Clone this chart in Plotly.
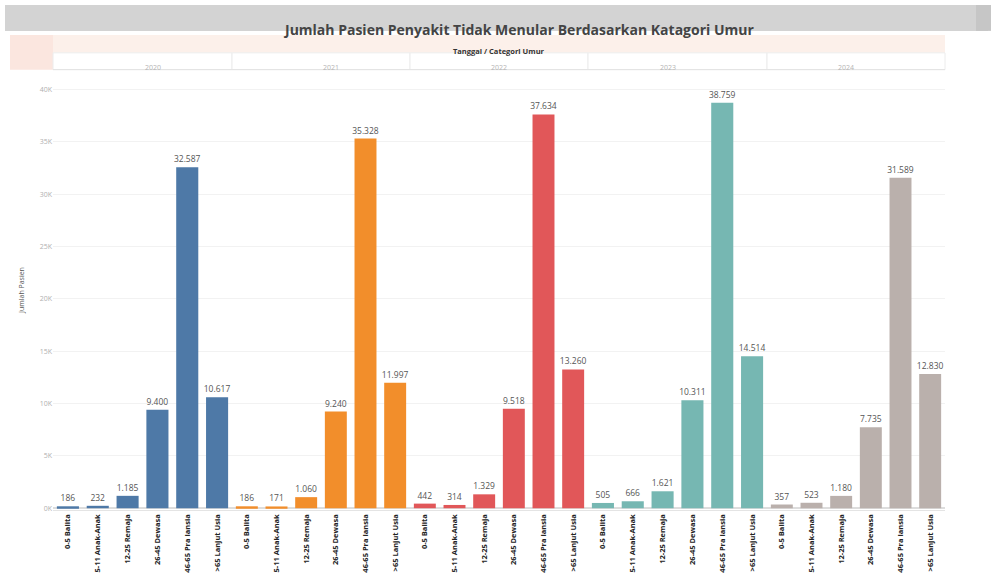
import plotly.graph_objects as go
from plotly.subplots import make_subplots

# Data: patients with non-communicable diseases per age category and year
years = ["2020", "2021", "2022", "2023", "2024"]
categories = ["0-5 Balita", "5-11 Anak-Anak", "12-25 Remaja", "26-45 Dewasa",
              "46-65 Pra lansia", ">65 Lanjut Usia"]
v2020 = [186, 232, 1185, 9400, 32587, 10617]
v2021 = [186, 171, 1060, 9240, 35328, 11997]
v2022 = [442, 314, 1329, 9518, 37634, 13260]
v2023 = [505, 666, 1621, 10311, 38759, 14514]
v2024 = [357, 523, 1180, 7735, 31589, 12830]
series = [v2020, v2021, v2022, v2023, v2024]
colors = ["#4e79a7", "#f28e2b", "#e15759", "#76b7b2", "#bab0ac"]
tick_vals = [0, 5000, 10000, 15000, 20000, 25000, 30000, 35000, 40000]
tick_text = ["0K", "5K", "10K", "15K", "20K", "25K", "30K", "35K", "40K"]

W, H = 991, 578
def px(x):
    return x / W
def py(y):
    return 1 - y / H

edges = [53, 232, 410, 588, 767, 945]
plot_top, plot_bot = 70, 512

fig = make_subplots(rows=1, cols=5, shared_yaxes=True, horizontal_spacing=0)
for i, (vals, col) in enumerate(zip(series, colors)):
    fig.add_trace(go.Bar(
        x=categories, y=vals, marker_color=col, marker_line_width=0,
        text=vals, texttemplate="%{y:,}", textposition="outside",
        constraintext="none",
        textfont=dict(size=8.5, color="#555555"), cliponaxis=False,
        showlegend=False), row=1, col=i + 1)
    xa = "xaxis" if i == 0 else f"xaxis{i + 1}"
    fig.layout[xa].update(
        domain=[px(edges[i]), px(edges[i + 1])],
        tickangle=-90,
        tickfont=dict(size=7.5, color="#222222", family="Open Sans", weight="bold"),
        showline=True, mirror=True, linecolor="#e4e4e4", linewidth=1,
        showgrid=False, ticks="")

fig.update_yaxes(range=[-190, 41900], tickvals=tick_vals, ticktext=tick_text,
                 tickfont=dict(size=7, color="#b0b0b0"), showgrid=True,
                 gridcolor="#f2f2f2", zeroline=True, zerolinecolor="#dddddd",
                 domain=[py(plot_bot), py(plot_top)], showline=False)
fig.update_yaxes(title=dict(text="Jumlah Pasien", font=dict(size=7, color="#555555"),
                            standoff=14), row=1, col=1)

shapes = []
# title bar
shapes.append(dict(type="rect", xref="paper", yref="paper", x0=px(5), x1=px(988),
                   y0=py(31), y1=py(5), fillcolor="#d3d3d3", line_width=0, layer="below"))
shapes.append(dict(type="rect", xref="paper", yref="paper", x0=px(976), x1=px(991),
                   y0=py(31), y1=py(5), fillcolor="#c6c6c6", line_width=0, layer="below"))
# header band
shapes.append(dict(type="rect", xref="paper", yref="paper", x0=px(10), x1=px(945),
                   y0=py(53), y1=py(35), fillcolor="#fcf0ea", line_width=0, layer="below"))
shapes.append(dict(type="rect", xref="paper", yref="paper", x0=px(10), x1=px(53),
                   y0=py(70), y1=py(35), fillcolor="#fbe6df", line_width=0, layer="below"))
# year header cells
for i in range(5):
    shapes.append(dict(type="rect", xref="paper", yref="paper", x0=px(edges[i]),
                       x1=px(edges[i + 1]), y0=py(70), y1=py(53), fillcolor="white",
                       line=dict(color="#ececec", width=1), layer="below"))

annotations = [
    dict(text="<b>Jumlah Pasien Penyakit Tidak Menular Berdasarkan Katagori Umur</b>",
         x=px(518), y=py(18), xref="paper", yref="paper", showarrow=False,
         font=dict(size=14, color="#444444", family="Open Sans")),
    dict(text="<b>Tanggal / Categori Umur</b>", x=px(499), y=py(44), xref="paper",
         yref="paper", showarrow=False, font=dict(size=7.5, color="#333333", family="Open Sans")),
]
for i, yr in enumerate(years):
    annotations.append(dict(text=yr, x=px((edges[i] + edges[i + 1]) / 2), y=py(61.5),
                            xref="paper", yref="paper", showarrow=False,
                            font=dict(size=7, color="#b5b5b5")))

fig.update_layout(width=W, height=H, margin=dict(l=0, r=0, t=0, b=0),
                  plot_bgcolor="white", paper_bgcolor="white", bargap=0.26,
                  separators=",.", shapes=shapes, annotations=annotations,
                  font=dict(family="Open Sans"))
fig.write_html("out.html")
